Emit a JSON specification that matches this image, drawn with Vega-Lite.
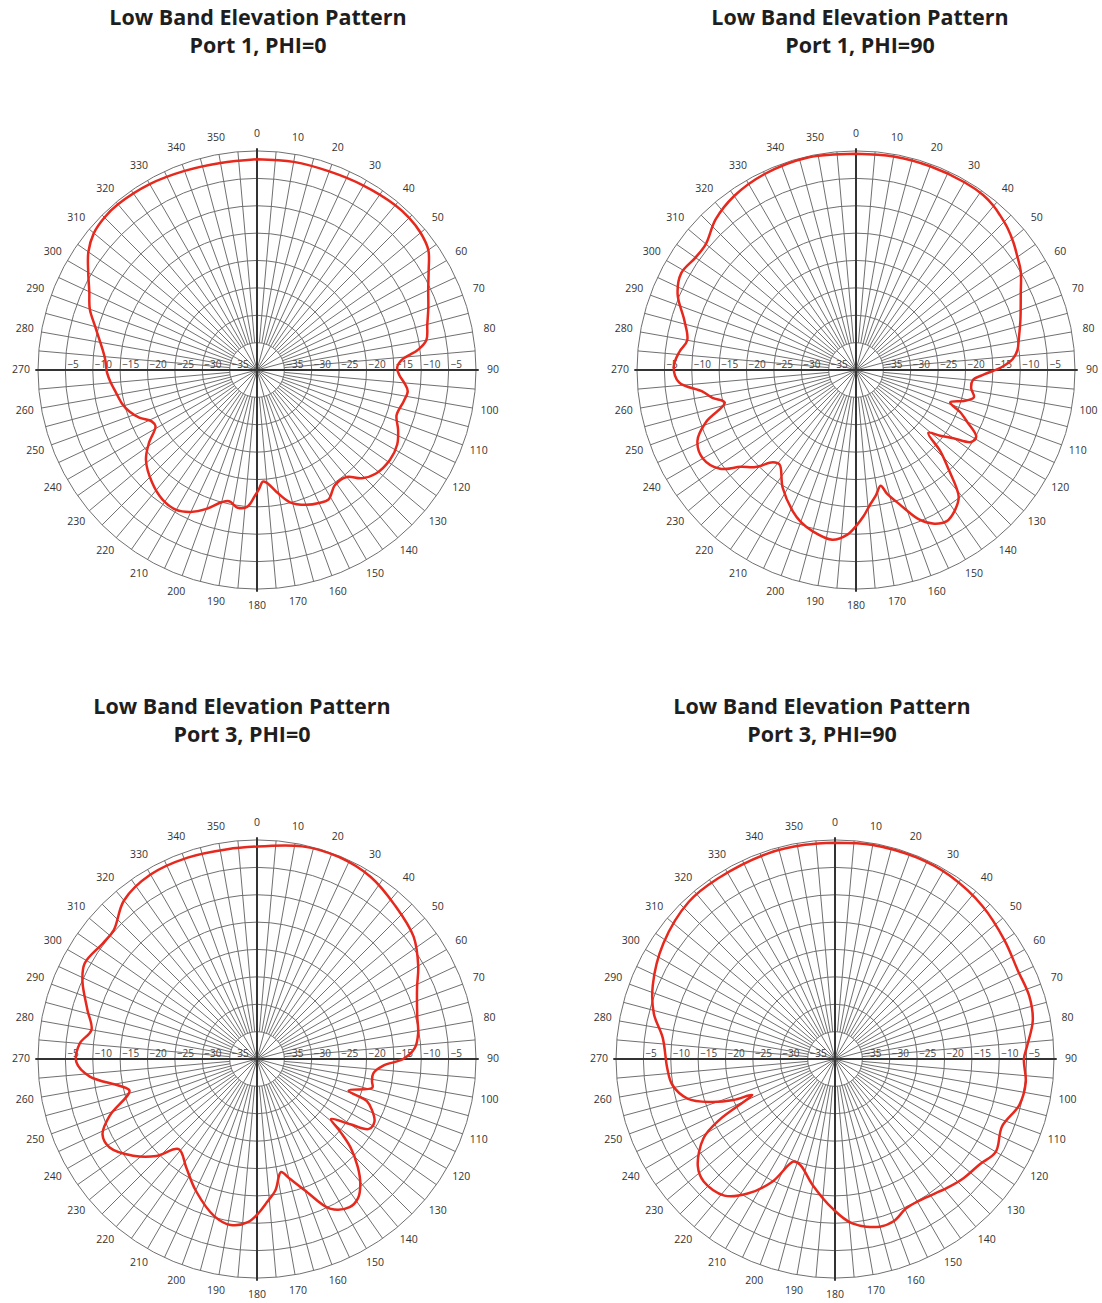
{
 "$schema": "https://vega.github.io/schema/vega-lite/v6.json",
 "background": "white",
 "padding": {"left": 9, "top": 8, "right": 0, "bottom": 0},
 "config": {
  "view": {"stroke": null},
  "title": {"font": "Open Sans", "fontSize": 21.5, "fontWeight": "bold", "color": "#1e1e1e", "lineHeight": 28, "offset": 66.5, "anchor": "middle", "frame": "group"},
  "text": {"font": "Open Sans"}
 },
 "datasets": {
  "spokes": [{"a":0},{"a":5},{"a":10},{"a":15},{"a":20},{"a":25},{"a":30},{"a":35},{"a":40},{"a":45},{"a":50},{"a":55},{"a":60},{"a":65},{"a":70},{"a":75},{"a":80},{"a":85},{"a":90},{"a":95},{"a":100},{"a":105},{"a":110},{"a":115},{"a":120},{"a":125},{"a":130},{"a":135},{"a":140},{"a":145},{"a":150},{"a":155},{"a":160},{"a":165},{"a":170},{"a":175},{"a":180},{"a":185},{"a":190},{"a":195},{"a":200},{"a":205},{"a":210},{"a":215},{"a":220},{"a":225},{"a":230},{"a":235},{"a":240},{"a":245},{"a":250},{"a":255},{"a":260},{"a":265},{"a":270},{"a":275},{"a":280},{"a":285},{"a":290},{"a":295},{"a":300},{"a":305},{"a":310},{"a":315},{"a":320},{"a":325},{"a":330},{"a":335},{"a":340},{"a":345},{"a":350},{"a":355}],
  "rings": [{"r":5},{"r":10},{"r":15},{"r":20},{"r":25},{"r":30},{"r":35},{"r":40}],
  "dbl": [{"db":-5},{"db":-10},{"db":-15},{"db":-20},{"db":-25},{"db":-30},{"db":-35}],
  "p1": [{"ang":0,"db":-1.5},{"ang":10,"db":-1.4},{"ang":20,"db":-1.4},{"ang":30,"db":-1.1},{"ang":40,"db":-0.7},{"ang":45,"db":-0.7},{"ang":50,"db":-1.0},{"ang":55,"db":-1.8},{"ang":60,"db":-3.8},{"ang":65,"db":-5.5},{"ang":70,"db":-6.7},{"ang":75,"db":-7.8},{"ang":80,"db":-8.6},{"ang":83,"db":-10.5},{"ang":86,"db":-13.5},{"ang":89,"db":-14.4},{"ang":92,"db":-14.0},{"ang":95,"db":-13.0},{"ang":98,"db":-12.2},{"ang":102,"db":-12.6},{"ang":108,"db":-13.2},{"ang":113,"db":-12.0},{"ang":118,"db":-11.0},{"ang":124,"db":-10.7},{"ang":131,"db":-11.2},{"ang":136,"db":-12.5},{"ang":140,"db":-14.5},{"ang":146,"db":-14.6},{"ang":151,"db":-13.0},{"ang":155,"db":-13.2},{"ang":160,"db":-13.8},{"ang":166,"db":-15.1},{"ang":171,"db":-17.5},{"ang":175,"db":-19.3},{"ang":177,"db":-19.6},{"ang":179,"db":-18.3},{"ang":181,"db":-17.0},{"ang":184,"db":-15.0},{"ang":188,"db":-14.6},{"ang":192,"db":-15.5},{"ang":195,"db":-15.0},{"ang":200,"db":-13.0},{"ang":205,"db":-11.4},{"ang":210,"db":-10.5},{"ang":216,"db":-10.7},{"ang":223,"db":-11.9},{"ang":231,"db":-13.9},{"ang":236,"db":-16.2},{"ang":241,"db":-18.8},{"ang":244,"db":-18.6},{"ang":248,"db":-16.8},{"ang":252,"db":-15.5},{"ang":256,"db":-14.6},{"ang":261,"db":-13.9},{"ang":265,"db":-13.2},{"ang":269,"db":-12.6},{"ang":274,"db":-12.2},{"ang":279,"db":-11.2},{"ang":285,"db":-9.4},{"ang":290,"db":-7.5},{"ang":295,"db":-6.2},{"ang":300,"db":-4.4},{"ang":305,"db":-2.4},{"ang":310,"db":-1.1},{"ang":315,"db":-0.6},{"ang":320,"db":-0.5},{"ang":330,"db":-0.8},{"ang":340,"db":-1.3},{"ang":350,"db":-1.6},{"ang":360,"db":-1.5}],
  "p2": [{"ang":0,"db":-0.5},{"ang":10,"db":-0.4},{"ang":20,"db":-0.4},{"ang":30,"db":-0.4},{"ang":36,"db":-0.5},{"ang":40,"db":-0.9},{"ang":43,"db":-1.4},{"ang":47,"db":-2.1},{"ang":51,"db":-3.0},{"ang":55,"db":-4.0},{"ang":59,"db":-4.9},{"ang":65,"db":-6.8},{"ang":73,"db":-8.6},{"ang":79,"db":-9.7},{"ang":83,"db":-10.3},{"ang":86,"db":-11.3},{"ang":89,"db":-13.5},{"ang":92,"db":-16.6},{"ang":95,"db":-18.6},{"ang":99,"db":-18.7},{"ang":103,"db":-17.9},{"ang":106,"db":-19.5},{"ang":109,"db":-21.8},{"ang":112,"db":-19.5},{"ang":115,"db":-17.6},{"ang":119,"db":-14.9},{"ang":122,"db":-15.2},{"ang":125,"db":-18.3},{"ang":128,"db":-20.5},{"ang":131,"db":-22.5},{"ang":134,"db":-18.5},{"ang":137,"db":-15.2},{"ang":141,"db":-10.2},{"ang":145,"db":-8.6},{"ang":149,"db":-7.8},{"ang":153,"db":-8.5},{"ang":157,"db":-10.3},{"ang":162,"db":-14.2},{"ang":166,"db":-16.8},{"ang":168,"db":-18.4},{"ang":171,"db":-16.8},{"ang":174,"db":-15.3},{"ang":177,"db":-13.3},{"ang":180,"db":-11.5},{"ang":183,"db":-9.9},{"ang":188,"db":-8.7},{"ang":195,"db":-9.5},{"ang":200,"db":-10.5},{"ang":204,"db":-11.7},{"ang":212,"db":-14.7},{"ang":219,"db":-17.8},{"ang":222,"db":-17.3},{"ang":226,"db":-14.5},{"ang":230,"db":-12.5},{"ang":234,"db":-9.3},{"ang":240,"db":-7.7},{"ang":246,"db":-8.3},{"ang":251,"db":-11.1},{"ang":256,"db":-15.3},{"ang":259,"db":-13.3},{"ang":262,"db":-11.7},{"ang":266,"db":-7.6},{"ang":271,"db":-6.7},{"ang":276,"db":-7.6},{"ang":280,"db":-8.7},{"ang":286,"db":-7.4},{"ang":293,"db":-4.6},{"ang":299,"db":-3.5},{"ang":305,"db":-4.2},{"ang":310,"db":-4.2},{"ang":317,"db":-2.4},{"ang":325,"db":-1.2},{"ang":335,"db":-0.5},{"ang":347,"db":-0.2},{"ang":360,"db":-0.5}],
  "p3": [{"ang":0,"db":-1.2},{"ang":12,"db":-0.3},{"ang":22,"db":-0.2},{"ang":32,"db":-0.8},{"ang":42,"db":-2.3},{"ang":52,"db":-3.7},{"ang":60,"db":-6.0},{"ang":66,"db":-8.0},{"ang":75,"db":-9.7},{"ang":81,"db":-10.2},{"ang":86,"db":-11.1},{"ang":90,"db":-13.3},{"ang":93,"db":-16.9},{"ang":97,"db":-18.6},{"ang":101,"db":-18.6},{"ang":104,"db":-18.3},{"ang":109,"db":-22.3},{"ang":111,"db":-18.5},{"ang":114,"db":-17.0},{"ang":118,"db":-15.7},{"ang":122,"db":-15.9},{"ang":125,"db":-19.2},{"ang":129,"db":-22.6},{"ang":131,"db":-20.0},{"ang":133.4,"db":-16.5},{"ang":137,"db":-13.0},{"ang":140.4,"db":-10.4},{"ang":144,"db":-8.6},{"ang":148,"db":-8.1},{"ang":154,"db":-9.6},{"ang":160,"db":-14.5},{"ang":165,"db":-17.5},{"ang":168,"db":-18.9},{"ang":172,"db":-15.8},{"ang":176,"db":-13.8},{"ang":179,"db":-12.1},{"ang":183,"db":-10.2},{"ang":189,"db":-9.3},{"ang":195,"db":-10.2},{"ang":205,"db":-13.5},{"ang":213,"db":-16.3},{"ang":221,"db":-18.2},{"ang":226,"db":-14.5},{"ang":232,"db":-11.3},{"ang":239,"db":-8.6},{"ang":244,"db":-8.6},{"ang":249,"db":-11.2},{"ang":256,"db":-16.0},{"ang":259,"db":-14.4},{"ang":264,"db":-9.3},{"ang":269,"db":-7.0},{"ang":275,"db":-7.5},{"ang":280,"db":-9.3},{"ang":286,"db":-7.8},{"ang":294,"db":-5.1},{"ang":299,"db":-4.0},{"ang":307,"db":-4.8},{"ang":312,"db":-4.8},{"ang":320,"db":-2.2},{"ang":330,"db":-1.1},{"ang":341,"db":-1.1},{"ang":352,"db":-1.3},{"ang":360,"db":-1.2}],
  "p4": [{"ang":0,"db":-0.5},{"ang":10,"db":-0.3},{"ang":22,"db":-0.3},{"ang":32,"db":-0.5},{"ang":44,"db":-1.2},{"ang":55,"db":-2.2},{"ang":64,"db":-2.9},{"ang":72,"db":-2.7},{"ang":79,"db":-3.2},{"ang":86,"db":-4.8},{"ang":90,"db":-5.5},{"ang":97,"db":-4.9},{"ang":104,"db":-5.3},{"ang":112,"db":-7.1},{"ang":120,"db":-6.1},{"ang":126,"db":-7.3},{"ang":133,"db":-8.0},{"ang":139,"db":-8.8},{"ang":149,"db":-9.9},{"ang":154.5,"db":-9.8},{"ang":160,"db":-8.5},{"ang":165,"db":-8.3},{"ang":174,"db":-9.8},{"ang":181,"db":-12.7},{"ang":190,"db":-16.6},{"ang":198,"db":-19.6},{"ang":202,"db":-19.8},{"ang":207,"db":-14.9},{"ang":213,"db":-10.7},{"ang":219,"db":-7.9},{"ang":227,"db":-7.2},{"ang":232,"db":-8.2},{"ang":239,"db":-12.0},{"ang":242.4,"db":-16.4},{"ang":246.6,"db":-23.5},{"ang":248,"db":-20.0},{"ang":251,"db":-15.9},{"ang":255,"db":-12.1},{"ang":261,"db":-9.9},{"ang":267,"db":-9.3},{"ang":277,"db":-8.3},{"ang":284,"db":-5.9},{"ang":292,"db":-4.1},{"ang":304,"db":-2.2},{"ang":317,"db":-0.8},{"ang":327,"db":-0.7},{"ang":342,"db":-0.5},{"ang":352,"db":-0.5},{"ang":360,"db":-0.5}]
 },
 "spacing": 84,
 "vconcat": [
  {"spacing": 105, "hconcat": [
   {"width": 494, "height": 489, "title": {"text": ["Low Band Elevation Pattern", "Port 1, PHI=0"], "dx": 2},
    "layer": [
     {"data": {"name": "rings"}, "transform": [{"calculate": "0", "as": "cx"}],
      "mark": {"type": "point", "shape": "circle", "filled": false, "stroke": "#707070", "strokeWidth": 1, "opacity": 1},
      "encoding": {"x": {"field": "cx", "type": "quantitative", "scale": {"domain": [-45.30, 44.93], "nice": false, "zero": false}, "axis": null}, "y": {"field": "cx", "type": "quantitative", "scale": {"domain": [-44.38, 44.93], "nice": false, "zero": false}, "axis": null}, "size": {"field": "r", "type": "quantitative", "scale": {"type": "pow", "exponent": 2, "domain": [0, 40], "range": [0, 191844], "zero": true, "nice": false}, "legend": null}}},
     {"data": {"name": "spokes"}, "transform": [{"calculate": "5*sin(datum.a*PI/180)", "as": "x0"}, {"calculate": "5*cos(datum.a*PI/180)", "as": "y0"}, {"calculate": "40*sin(datum.a*PI/180)", "as": "x1"}, {"calculate": "40*cos(datum.a*PI/180)", "as": "y1"}],
      "mark": {"type": "rule", "stroke": "#707070", "strokeWidth": 1},
      "encoding": {"x": {"field": "x0", "type": "quantitative"}, "y": {"field": "y0", "type": "quantitative"}, "x2": {"field": "x1"}, "y2": {"field": "y1"}}},
     {"data": {"name": "spokes"}, "transform": [{"filter": "datum.a % 15 == 0"}, {"calculate": "0", "as": "x0"}, {"calculate": "5*sin(datum.a*PI/180)", "as": "x1"}, {"calculate": "5*cos(datum.a*PI/180)", "as": "y1"}],
      "mark": {"type": "rule", "stroke": "#707070", "strokeWidth": 1},
      "encoding": {"x": {"field": "x0", "type": "quantitative"}, "y": {"field": "x0", "type": "quantitative"}, "x2": {"field": "x1"}, "y2": {"field": "y1"}}},
     {"data": {"name": "spokes"}, "transform": [{"filter": "datum.a % 90 == 0"}, {"calculate": "0", "as": "x0"}, {"calculate": "40.5*sin(datum.a*PI/180)", "as": "x1"}, {"calculate": "40.5*cos(datum.a*PI/180)", "as": "y1"}],
      "mark": {"type": "rule", "stroke": "#333", "strokeWidth": 2},
      "encoding": {"x": {"field": "x0", "type": "quantitative"}, "y": {"field": "x0", "type": "quantitative"}, "x2": {"field": "x1"}, "y2": {"field": "y1"}}},
     {"data": {"name": "dbl"}, "transform": [{"calculate": "40+datum.db", "as": "xr"}, {"calculate": "0", "as": "y0"}],
      "mark": {"type": "text", "align": "left", "baseline": "alphabetic", "dx": 2, "dy": -2, "fontSize": 10, "color": "#444"},
      "encoding": {"x": {"field": "xr", "type": "quantitative"}, "y": {"field": "y0", "type": "quantitative"}, "text": {"field": "db", "type": "quantitative", "format": "d"}}},
     {"data": {"name": "dbl"}, "transform": [{"calculate": "-(40+datum.db)", "as": "xl"}, {"calculate": "0", "as": "y0"}],
      "mark": {"type": "text", "align": "left", "baseline": "alphabetic", "dx": 2, "dy": -2, "fontSize": 10, "color": "#444"},
      "encoding": {"x": {"field": "xl", "type": "quantitative"}, "y": {"field": "y0", "type": "quantitative"}, "text": {"field": "db", "type": "quantitative", "format": "d"}}},
     {"data": {"name": "spokes"}, "transform": [{"filter": "datum.a % 10 == 0"}, {"calculate": "43.1*sin(datum.a*PI/180)", "as": "lx"}, {"calculate": "43.1*cos(datum.a*PI/180)", "as": "ly"}],
      "mark": {"type": "text", "align": "center", "baseline": "middle", "fontSize": 10.5, "color": "#333"},
      "encoding": {"x": {"field": "lx", "type": "quantitative"}, "y": {"field": "ly", "type": "quantitative"}, "text": {"field": "a", "type": "quantitative", "format": "d"}}},
     {"data": {"name": "p1"}, "transform": [{"calculate": "(datum.db+40)*sin(datum.ang*PI/180)", "as": "px"}, {"calculate": "(datum.db+40)*cos(datum.ang*PI/180)", "as": "py"}],
      "mark": {"type": "line", "interpolate": "catmull-rom", "stroke": "#e6281d", "strokeWidth": 2.5},
      "encoding": {"x": {"field": "px", "type": "quantitative"}, "y": {"field": "py", "type": "quantitative"}, "order": {"field": "ang", "type": "quantitative"}}}
    ]},
   {"width": 494, "height": 489, "title": {"text": ["Low Band Elevation Pattern", "Port 1, PHI=90"], "dx": 5},
    "layer": [
     {"data": {"name": "rings"}, "transform": [{"calculate": "0", "as": "cx"}],
      "mark": {"type": "point", "shape": "circle", "filled": false, "stroke": "#707070", "strokeWidth": 1, "opacity": 1},
      "encoding": {"x": {"field": "cx", "type": "quantitative", "scale": {"domain": [-45.30, 44.93], "nice": false, "zero": false}, "axis": null}, "y": {"field": "cx", "type": "quantitative", "scale": {"domain": [-44.38, 44.93], "nice": false, "zero": false}, "axis": null}, "size": {"field": "r", "type": "quantitative", "scale": {"type": "pow", "exponent": 2, "domain": [0, 40], "range": [0, 191844], "zero": true, "nice": false}, "legend": null}}},
     {"data": {"name": "spokes"}, "transform": [{"calculate": "5*sin(datum.a*PI/180)", "as": "x0"}, {"calculate": "5*cos(datum.a*PI/180)", "as": "y0"}, {"calculate": "40*sin(datum.a*PI/180)", "as": "x1"}, {"calculate": "40*cos(datum.a*PI/180)", "as": "y1"}],
      "mark": {"type": "rule", "stroke": "#707070", "strokeWidth": 1},
      "encoding": {"x": {"field": "x0", "type": "quantitative"}, "y": {"field": "y0", "type": "quantitative"}, "x2": {"field": "x1"}, "y2": {"field": "y1"}}},
     {"data": {"name": "spokes"}, "transform": [{"filter": "datum.a % 15 == 0"}, {"calculate": "0", "as": "x0"}, {"calculate": "5*sin(datum.a*PI/180)", "as": "x1"}, {"calculate": "5*cos(datum.a*PI/180)", "as": "y1"}],
      "mark": {"type": "rule", "stroke": "#707070", "strokeWidth": 1},
      "encoding": {"x": {"field": "x0", "type": "quantitative"}, "y": {"field": "x0", "type": "quantitative"}, "x2": {"field": "x1"}, "y2": {"field": "y1"}}},
     {"data": {"name": "spokes"}, "transform": [{"filter": "datum.a % 90 == 0"}, {"calculate": "0", "as": "x0"}, {"calculate": "40.5*sin(datum.a*PI/180)", "as": "x1"}, {"calculate": "40.5*cos(datum.a*PI/180)", "as": "y1"}],
      "mark": {"type": "rule", "stroke": "#333", "strokeWidth": 2},
      "encoding": {"x": {"field": "x0", "type": "quantitative"}, "y": {"field": "x0", "type": "quantitative"}, "x2": {"field": "x1"}, "y2": {"field": "y1"}}},
     {"data": {"name": "dbl"}, "transform": [{"calculate": "40+datum.db", "as": "xr"}, {"calculate": "0", "as": "y0"}],
      "mark": {"type": "text", "align": "left", "baseline": "alphabetic", "dx": 2, "dy": -2, "fontSize": 10, "color": "#444"},
      "encoding": {"x": {"field": "xr", "type": "quantitative"}, "y": {"field": "y0", "type": "quantitative"}, "text": {"field": "db", "type": "quantitative", "format": "d"}}},
     {"data": {"name": "dbl"}, "transform": [{"calculate": "-(40+datum.db)", "as": "xl"}, {"calculate": "0", "as": "y0"}],
      "mark": {"type": "text", "align": "left", "baseline": "alphabetic", "dx": 2, "dy": -2, "fontSize": 10, "color": "#444"},
      "encoding": {"x": {"field": "xl", "type": "quantitative"}, "y": {"field": "y0", "type": "quantitative"}, "text": {"field": "db", "type": "quantitative", "format": "d"}}},
     {"data": {"name": "spokes"}, "transform": [{"filter": "datum.a % 10 == 0"}, {"calculate": "43.1*sin(datum.a*PI/180)", "as": "lx"}, {"calculate": "43.1*cos(datum.a*PI/180)", "as": "ly"}],
      "mark": {"type": "text", "align": "center", "baseline": "middle", "fontSize": 10.5, "color": "#333"},
      "encoding": {"x": {"field": "lx", "type": "quantitative"}, "y": {"field": "ly", "type": "quantitative"}, "text": {"field": "a", "type": "quantitative", "format": "d"}}},
     {"data": {"name": "p2"}, "transform": [{"calculate": "(datum.db+40)*sin(datum.ang*PI/180)", "as": "px"}, {"calculate": "(datum.db+40)*cos(datum.ang*PI/180)", "as": "py"}],
      "mark": {"type": "line", "interpolate": "catmull-rom", "stroke": "#e6281d", "strokeWidth": 2.5},
      "encoding": {"x": {"field": "px", "type": "quantitative"}, "y": {"field": "py", "type": "quantitative"}, "order": {"field": "ang", "type": "quantitative"}}}
    ]}
  ]},
  {"spacing": 84, "hconcat": [
   {"width": 494, "height": 489, "title": {"text": ["Low Band Elevation Pattern", "Port 3, PHI=0"], "dx": -14},
    "layer": [
     {"data": {"name": "rings"}, "transform": [{"calculate": "0", "as": "cx"}],
      "mark": {"type": "point", "shape": "circle", "filled": false, "stroke": "#707070", "strokeWidth": 1, "opacity": 1},
      "encoding": {"x": {"field": "cx", "type": "quantitative", "scale": {"domain": [-45.30, 44.93], "nice": false, "zero": false}, "axis": null}, "y": {"field": "cx", "type": "quantitative", "scale": {"domain": [-44.38, 44.93], "nice": false, "zero": false}, "axis": null}, "size": {"field": "r", "type": "quantitative", "scale": {"type": "pow", "exponent": 2, "domain": [0, 40], "range": [0, 193600], "zero": true, "nice": false}, "legend": null}}},
     {"data": {"name": "spokes"}, "transform": [{"calculate": "5*sin(datum.a*PI/180)", "as": "x0"}, {"calculate": "5*cos(datum.a*PI/180)", "as": "y0"}, {"calculate": "40*sin(datum.a*PI/180)", "as": "x1"}, {"calculate": "40*cos(datum.a*PI/180)", "as": "y1"}],
      "mark": {"type": "rule", "stroke": "#707070", "strokeWidth": 1},
      "encoding": {"x": {"field": "x0", "type": "quantitative"}, "y": {"field": "y0", "type": "quantitative"}, "x2": {"field": "x1"}, "y2": {"field": "y1"}}},
     {"data": {"name": "spokes"}, "transform": [{"filter": "datum.a % 15 == 0"}, {"calculate": "0", "as": "x0"}, {"calculate": "5*sin(datum.a*PI/180)", "as": "x1"}, {"calculate": "5*cos(datum.a*PI/180)", "as": "y1"}],
      "mark": {"type": "rule", "stroke": "#707070", "strokeWidth": 1},
      "encoding": {"x": {"field": "x0", "type": "quantitative"}, "y": {"field": "x0", "type": "quantitative"}, "x2": {"field": "x1"}, "y2": {"field": "y1"}}},
     {"data": {"name": "spokes"}, "transform": [{"filter": "datum.a % 90 == 0"}, {"calculate": "0", "as": "x0"}, {"calculate": "40.5*sin(datum.a*PI/180)", "as": "x1"}, {"calculate": "40.5*cos(datum.a*PI/180)", "as": "y1"}],
      "mark": {"type": "rule", "stroke": "#333", "strokeWidth": 2},
      "encoding": {"x": {"field": "x0", "type": "quantitative"}, "y": {"field": "x0", "type": "quantitative"}, "x2": {"field": "x1"}, "y2": {"field": "y1"}}},
     {"data": {"name": "dbl"}, "transform": [{"calculate": "40+datum.db", "as": "xr"}, {"calculate": "0", "as": "y0"}],
      "mark": {"type": "text", "align": "left", "baseline": "alphabetic", "dx": 2, "dy": -2, "fontSize": 10, "color": "#444"},
      "encoding": {"x": {"field": "xr", "type": "quantitative"}, "y": {"field": "y0", "type": "quantitative"}, "text": {"field": "db", "type": "quantitative", "format": "d"}}},
     {"data": {"name": "dbl"}, "transform": [{"calculate": "-(40+datum.db)", "as": "xl"}, {"calculate": "0", "as": "y0"}],
      "mark": {"type": "text", "align": "left", "baseline": "alphabetic", "dx": 2, "dy": -2, "fontSize": 10, "color": "#444"},
      "encoding": {"x": {"field": "xl", "type": "quantitative"}, "y": {"field": "y0", "type": "quantitative"}, "text": {"field": "db", "type": "quantitative", "format": "d"}}},
     {"data": {"name": "spokes"}, "transform": [{"filter": "datum.a % 10 == 0"}, {"calculate": "43.1*sin(datum.a*PI/180)", "as": "lx"}, {"calculate": "43.1*cos(datum.a*PI/180)", "as": "ly"}],
      "mark": {"type": "text", "align": "center", "baseline": "middle", "fontSize": 10.5, "color": "#333"},
      "encoding": {"x": {"field": "lx", "type": "quantitative"}, "y": {"field": "ly", "type": "quantitative"}, "text": {"field": "a", "type": "quantitative", "format": "d"}}},
     {"data": {"name": "p3"}, "transform": [{"calculate": "(datum.db+40)*sin(datum.ang*PI/180)", "as": "px"}, {"calculate": "(datum.db+40)*cos(datum.ang*PI/180)", "as": "py"}],
      "mark": {"type": "line", "interpolate": "catmull-rom", "stroke": "#e6281d", "strokeWidth": 2.5},
      "encoding": {"x": {"field": "px", "type": "quantitative"}, "y": {"field": "py", "type": "quantitative"}, "order": {"field": "ang", "type": "quantitative"}}}
    ]},
   {"width": 494, "height": 489, "title": {"text": ["Low Band Elevation Pattern", "Port 3, PHI=90"], "dx": -12},
    "layer": [
     {"data": {"name": "rings"}, "transform": [{"calculate": "0", "as": "cx"}],
      "mark": {"type": "point", "shape": "circle", "filled": false, "stroke": "#707070", "strokeWidth": 1, "opacity": 1},
      "encoding": {"x": {"field": "cx", "type": "quantitative", "scale": {"domain": [-45.30, 44.93], "nice": false, "zero": false}, "axis": null}, "y": {"field": "cx", "type": "quantitative", "scale": {"domain": [-44.38, 44.93], "nice": false, "zero": false}, "axis": null}, "size": {"field": "r", "type": "quantitative", "scale": {"type": "pow", "exponent": 2, "domain": [0, 40], "range": [0, 191844], "zero": true, "nice": false}, "legend": null}}},
     {"data": {"name": "spokes"}, "transform": [{"calculate": "5*sin(datum.a*PI/180)", "as": "x0"}, {"calculate": "5*cos(datum.a*PI/180)", "as": "y0"}, {"calculate": "40*sin(datum.a*PI/180)", "as": "x1"}, {"calculate": "40*cos(datum.a*PI/180)", "as": "y1"}],
      "mark": {"type": "rule", "stroke": "#707070", "strokeWidth": 1},
      "encoding": {"x": {"field": "x0", "type": "quantitative"}, "y": {"field": "y0", "type": "quantitative"}, "x2": {"field": "x1"}, "y2": {"field": "y1"}}},
     {"data": {"name": "spokes"}, "transform": [{"filter": "datum.a % 15 == 0"}, {"calculate": "0", "as": "x0"}, {"calculate": "5*sin(datum.a*PI/180)", "as": "x1"}, {"calculate": "5*cos(datum.a*PI/180)", "as": "y1"}],
      "mark": {"type": "rule", "stroke": "#707070", "strokeWidth": 1},
      "encoding": {"x": {"field": "x0", "type": "quantitative"}, "y": {"field": "x0", "type": "quantitative"}, "x2": {"field": "x1"}, "y2": {"field": "y1"}}},
     {"data": {"name": "spokes"}, "transform": [{"filter": "datum.a % 90 == 0"}, {"calculate": "0", "as": "x0"}, {"calculate": "40.5*sin(datum.a*PI/180)", "as": "x1"}, {"calculate": "40.5*cos(datum.a*PI/180)", "as": "y1"}],
      "mark": {"type": "rule", "stroke": "#333", "strokeWidth": 2},
      "encoding": {"x": {"field": "x0", "type": "quantitative"}, "y": {"field": "x0", "type": "quantitative"}, "x2": {"field": "x1"}, "y2": {"field": "y1"}}},
     {"data": {"name": "dbl"}, "transform": [{"calculate": "40+datum.db", "as": "xr"}, {"calculate": "0", "as": "y0"}],
      "mark": {"type": "text", "align": "left", "baseline": "alphabetic", "dx": 2, "dy": -2, "fontSize": 10, "color": "#444"},
      "encoding": {"x": {"field": "xr", "type": "quantitative"}, "y": {"field": "y0", "type": "quantitative"}, "text": {"field": "db", "type": "quantitative", "format": "d"}}},
     {"data": {"name": "dbl"}, "transform": [{"calculate": "-(40+datum.db)", "as": "xl"}, {"calculate": "0", "as": "y0"}],
      "mark": {"type": "text", "align": "left", "baseline": "alphabetic", "dx": 2, "dy": -2, "fontSize": 10, "color": "#444"},
      "encoding": {"x": {"field": "xl", "type": "quantitative"}, "y": {"field": "y0", "type": "quantitative"}, "text": {"field": "db", "type": "quantitative", "format": "d"}}},
     {"data": {"name": "spokes"}, "transform": [{"filter": "datum.a % 10 == 0"}, {"calculate": "43.1*sin(datum.a*PI/180)", "as": "lx"}, {"calculate": "43.1*cos(datum.a*PI/180)", "as": "ly"}],
      "mark": {"type": "text", "align": "center", "baseline": "middle", "fontSize": 10.5, "color": "#333"},
      "encoding": {"x": {"field": "lx", "type": "quantitative"}, "y": {"field": "ly", "type": "quantitative"}, "text": {"field": "a", "type": "quantitative", "format": "d"}}},
     {"data": {"name": "p4"}, "transform": [{"calculate": "(datum.db+40)*sin(datum.ang*PI/180)", "as": "px"}, {"calculate": "(datum.db+40)*cos(datum.ang*PI/180)", "as": "py"}],
      "mark": {"type": "line", "interpolate": "catmull-rom", "stroke": "#e6281d", "strokeWidth": 2.5},
      "encoding": {"x": {"field": "px", "type": "quantitative"}, "y": {"field": "py", "type": "quantitative"}, "order": {"field": "ang", "type": "quantitative"}}}
    ]}
  ]}
 ]
}
